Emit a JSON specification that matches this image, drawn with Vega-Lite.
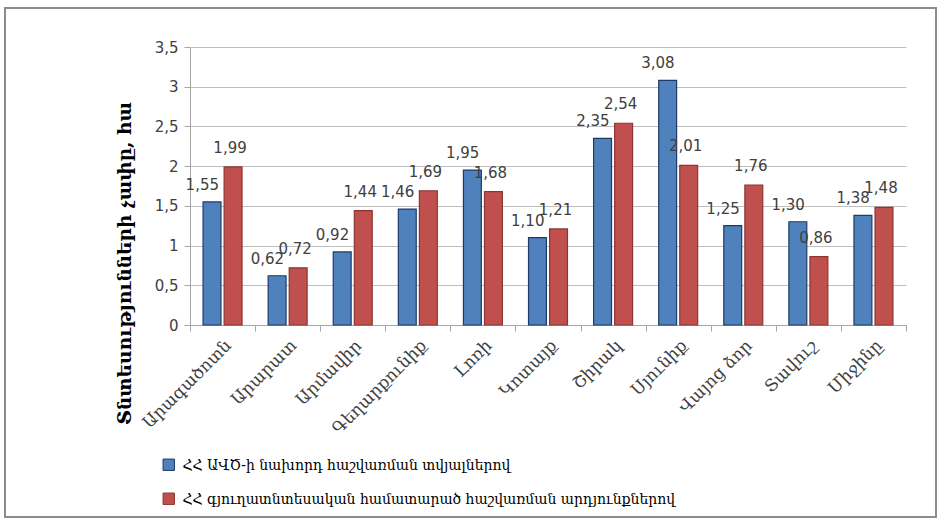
{
  "$schema": "https://vega.github.io/schema/vega-lite/v6.json",
  "width": 931,
  "height": 509,
  "autosize": {"type": "none"},
  "padding": {"left": 5, "top": 8, "right": 8, "bottom": 8},
  "background": "white",
  "config": {
    "locale": {
      "number": {"decimal": ",", "thousands": " ", "grouping": [3], "currency": ["", ""]}
    },
    "view": {"stroke": "#8c8c8c", "strokeWidth": 2},
    "font": "DejaVu Sans"
  },
  "data": {
    "values": [
      {"region": "Արագածոտն", "series": "ՀՀ ԱՎԾ-ի նախորդ հաշվառման տվյալներով", "value": 1.55},
      {"region": "Արագածոտն", "series": "ՀՀ գյուղատնտեսական համատարած հաշվառման արդյունքներով", "value": 1.99},
      {"region": "Արարատ", "series": "ՀՀ ԱՎԾ-ի նախորդ հաշվառման տվյալներով", "value": 0.62},
      {"region": "Արարատ", "series": "ՀՀ գյուղատնտեսական համատարած հաշվառման արդյունքներով", "value": 0.72},
      {"region": "Արմավիր", "series": "ՀՀ ԱՎԾ-ի նախորդ հաշվառման տվյալներով", "value": 0.92},
      {"region": "Արմավիր", "series": "ՀՀ գյուղատնտեսական համատարած հաշվառման արդյունքներով", "value": 1.44},
      {"region": "Գեղարքունիք", "series": "ՀՀ ԱՎԾ-ի նախորդ հաշվառման տվյալներով", "value": 1.46},
      {"region": "Գեղարքունիք", "series": "ՀՀ գյուղատնտեսական համատարած հաշվառման արդյունքներով", "value": 1.69},
      {"region": "Լոռի", "series": "ՀՀ ԱՎԾ-ի նախորդ հաշվառման տվյալներով", "value": 1.95},
      {"region": "Լոռի", "series": "ՀՀ գյուղատնտեսական համատարած հաշվառման արդյունքներով", "value": 1.68},
      {"region": "Կոտայք", "series": "ՀՀ ԱՎԾ-ի նախորդ հաշվառման տվյալներով", "value": 1.10},
      {"region": "Կոտայք", "series": "ՀՀ գյուղատնտեսական համատարած հաշվառման արդյունքներով", "value": 1.21},
      {"region": "Շիրակ", "series": "ՀՀ ԱՎԾ-ի նախորդ հաշվառման տվյալներով", "value": 2.35},
      {"region": "Շիրակ", "series": "ՀՀ գյուղատնտեսական համատարած հաշվառման արդյունքներով", "value": 2.54},
      {"region": "Սյունիք", "series": "ՀՀ ԱՎԾ-ի նախորդ հաշվառման տվյալներով", "value": 3.08},
      {"region": "Սյունիք", "series": "ՀՀ գյուղատնտեսական համատարած հաշվառման արդյունքներով", "value": 2.01},
      {"region": "Վայոց ձոր", "series": "ՀՀ ԱՎԾ-ի նախորդ հաշվառման տվյալներով", "value": 1.25},
      {"region": "Վայոց ձոր", "series": "ՀՀ գյուղատնտեսական համատարած հաշվառման արդյունքներով", "value": 1.76},
      {"region": "Տավուշ", "series": "ՀՀ ԱՎԾ-ի նախորդ հաշվառման տվյալներով", "value": 1.30},
      {"region": "Տավուշ", "series": "ՀՀ գյուղատնտեսական համատարած հաշվառման արդյունքներով", "value": 0.86},
      {"region": "Միջինը", "series": "ՀՀ ԱՎԾ-ի նախորդ հաշվառման տվյալներով", "value": 1.38},
      {"region": "Միջինը", "series": "ՀՀ գյուղատնտեսական համատարած հաշվառման արդյունքներով", "value": 1.48}
    ]
  },
  "encoding": {
    "x": {
      "field": "region",
      "type": "nominal",
      "sort": null,
      "scale": {"paddingInner": 0, "paddingOuter": 0, "range": [185, 901]},
      "axis": {
        "title": null,
        "offset": -192,
        "labelAngle": -45,
        "labelFont": "DejaVu Serif",
        "labelFontSize": 17,
        "labelColor": "#404040",
        "tickBand": "extent",
        "domainColor": "#a6a6a6",
        "tickColor": "#a6a6a6",
        "tickSize": 6,
        "labelPadding": 6
      }
    },
    "xOffset": {
      "field": "series",
      "type": "nominal",
      "sort": null,
      "scale": {"paddingInner": 0.15, "paddingOuter": 0.62}
    },
    "y": {
      "field": "value",
      "type": "quantitative",
      "scale": {"domain": [0, 3.5], "range": [317, 39]},
      "axis": {
        "offset": -185,
        "values": [0, 0.5, 1, 1.5, 2, 2.5, 3, 3.5],
        "format": ".1~f",
        "title": "Տնտեսությունների չափը, հա",
        "titleFont": "DejaVu Serif",
        "titleFontSize": 18.5,
        "titleFontWeight": "bold",
        "titleColor": "#000000",
        "titlePadding": 20,
        "titleY": 255,
        "labelFontSize": 15,
        "labelColor": "#404040",
        "labelPadding": 6,
        "gridColor": "#bfbfbf",
        "domainColor": "#a6a6a6",
        "tickColor": "#a6a6a6",
        "tickSize": 6
      }
    }
  },
  "layer": [
    {
      "mark": {"type": "bar", "strokeWidth": 1.2},
      "encoding": {
        "color": {
          "field": "series",
          "type": "nominal",
          "sort": null,
          "scale": {"range": ["#4F81BD", "#C0504D"]},
          "legend": {
            "title": null,
            "orient": "none",
            "legendX": 156,
            "legendY": 449,
            "direction": "vertical",
            "symbolType": "square",
            "symbolSize": 130,
            "symbolStrokeWidth": 1,
            "labelFont": "DejaVu Serif Condensed",
            "labelFontSize": 15.5,
            "labelColor": "#000000",
            "labelLimit": 800,
            "labelOffset": 6,
            "rowPadding": 17
          }
        },
        "stroke": {
          "field": "series",
          "type": "nominal",
          "sort": null,
          "scale": {"range": ["#1F3A68", "#8C3533"]},
          "legend": null
        }
      }
    },
    {
      "transform": [{"filter": "datum.series == 'ՀՀ ԱՎԾ-ի նախորդ հաշվառման տվյալներով'"}],
      "mark": {"type": "text", "align": "right", "baseline": "middle", "dx": 7, "dy": -17, "fontSize": 15, "color": "#404040"},
      "encoding": {
        "text": {"field": "value", "type": "quantitative", "format": ".2f"}
      }
    },
    {
      "transform": [{"filter": "datum.series != 'ՀՀ ԱՎԾ-ի նախորդ հաշվառման տվյալներով'"}],
      "mark": {"type": "text", "align": "center", "baseline": "middle", "dx": -3, "dy": -19, "fontSize": 15, "color": "#404040"},
      "encoding": {
        "text": {"field": "value", "type": "quantitative", "format": ".2f"}
      }
    }
  ]
}
